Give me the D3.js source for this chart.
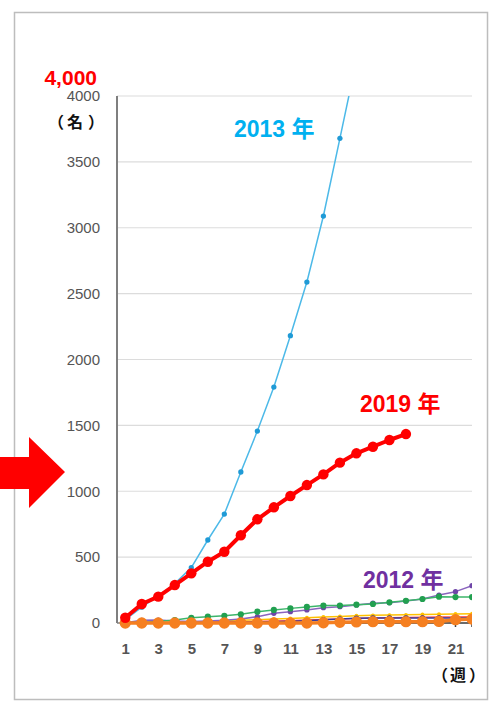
<!DOCTYPE html>
<html>
<head>
<meta charset="utf-8">
<script src="https://cdn.jsdelivr.net/npm/d3@7"></script>
<style>
  body{margin:0;background:#fff;}
  text{font-family:"Liberation Sans","Noto Sans CJK JP",Arial,sans-serif;}
  text.cjk{font-family:"Noto Sans CJK JP",sans-serif;}
</style>
</head>
<body>
<div id="chart"></div>
<script>
// categories (週) and tick labels
const weeks = [1,2,3,4,5,6,7,8,9,10,11,12,13,14,15,16,17,18,19,20,21,22];
const xTicks = [1,3,5,7,9,11,13,15,17,19,21];
const yTicks = [0,500,1000,1500,2000,2500,3000,3500,4000];

// series values (名), index 0 = week 1
const y2013 = [25,120,205,300,420,630,827,1146,1457,1791,2181,2588,3089,3679,4270];
const y2019 = [40,144,200,288,377,465,541,666,787,878,964,1047,1128,1217,1288,1338,1389,1434];
const y2012 = [2,20,22,15,12,15,20,30,48,74,86,99,116,124,137,150,154,167,182,212,238,283];
const yGreen = [0,5,12,23,40,48,55,66,86,99,111,122,132,133,139,144,157,169,182,200,197,197];
const yOrange = [0,0,0,0,0,0,0,0,0,0,0,0,2,5,8,10,10,10,10,12,25,30];
const yNavy = [0,0,0,0,0,2,4,6,8,10,14,18,24,30,36,38,38,38,38,38,38,40];
const yYellow = [0,0,2,5,8,12,16,20,25,30,35,40,45,50,55,58,60,62,64,66,68,70];
const yPink = [0,0,0,2,4,6,8,10,12,15,18,22,26,30,34,38,40,42,44,45,46,48];
const yGray = [0,0,0,0,0,0,0,0,0,0,0,0,0,0,0,0,0,0,0,0,0,0];

class Chart{
  constructor(opts){
    this.element = opts.element;
    this.series = opts.series;

    this.draw();
  }

  draw(){
    this.width = 491;
    this.height = 705;
    this.margin = {
      top : 96,
      bottom : 82,
      left : 117,
      right : 19
    };
    this.innerW = this.width - this.margin.left - this.margin.right;
    this.innerH = this.height - this.margin.top - this.margin.bottom;

    this.element.innerHTML = '';
    const svg = d3.select(this.element).append('svg')
                  .attr('width', this.width)
                  .attr('height', this.height);
    this.svg = svg;

    // screenshot frame
    svg.append('rect')
       .attr('x', 14.5).attr('y', 12.5)
       .attr('width', 473).attr('height', 687)
       .attr('fill', '#fff')
       .attr('stroke', '#bdbdbd')
       .attr('stroke-width', 1.5);

    // red arrow on the left
    svg.append('polygon')
       .attr('points', '0,457 29,457 29,437 65,472 29,508 29,489 0,489')
       .attr('fill', '#ff0000');

    this.plot = svg.append('g')
                   .attr('transform', `translate(${this.margin.left},${this.margin.top})`);

    this.createScales();
    this.addAxes();
    this.addLines();
    this.addLabels();
  }

  createScales(){
    this.xScale = d3.scaleLinear()
                    .domain([0.5, 22])
                    .range([0, this.innerW]);

    this.yScale = d3.scaleLinear()
                    .domain([0, 4000])
                    .range([this.innerH, 0]);
  }

  addAxes(){
    // gridlines
    this.plot.append('g')
             .selectAll('line')
             .data(yTicks.filter(d => d > 0))
             .join('line')
             .attr('x1', 0)
             .attr('x2', this.innerW)
             .attr('y1', d => this.yScale(d))
             .attr('y2', d => this.yScale(d))
             .attr('stroke', '#dcdcdc')
             .attr('stroke-width', 1.2);

    const yAxis = d3.axisLeft(this.yScale)
                    .tickValues(yTicks)
                    .tickFormat(d3.format('d'))
                    .tickSize(0)
                    .tickPadding(17);

    const xAxis = d3.axisBottom(this.xScale)
                    .tickValues(xTicks)
                    .tickFormat(d3.format('d'))
                    .tickSize(0)
                    .tickPadding(20);

    const gy = this.plot.append('g').attr('class', 'y axis').call(yAxis);
    const gx = this.plot.append('g').attr('class', 'x axis')
                   .attr('transform', `translate(0,${this.innerH})`)
                   .call(xAxis);

    gy.select('.domain').remove();
    gy.selectAll('text')
      .attr('fill', '#555')
      .style('font-size', '15px')
      .style('font-family', '"Liberation Sans",Arial,sans-serif');

    gx.select('.domain').remove();
    gx.selectAll('text')
      .attr('fill', '#555')
      .style('font-size', '15px')
      .style('font-weight', 'bold')
      .style('font-family', '"Liberation Sans",Arial,sans-serif');

    // axis lines
    this.plot.append('line')
             .attr('x1', 0).attr('x2', 0)
             .attr('y1', 0).attr('y2', this.innerH)
             .attr('stroke', '#7f7f7f').attr('stroke-width', 2);
    this.plot.append('line')
             .attr('x1', 0).attr('x2', this.innerW)
             .attr('y1', this.innerH).attr('y2', this.innerH)
             .attr('stroke', '#7f7f7f').attr('stroke-width', 1.5);
  }

  addLines(){
    this.svg.append('defs').append('clipPath')
            .attr('id', 'clip')
            .append('rect')
            .attr('x', -10).attr('y', 0)
            .attr('width', this.innerW + 10)
            .attr('height', this.innerH + 20);

    const lines = this.plot.append('g').attr('clip-path', 'url(#clip)');

    const line = d3.line()
                   .x((d, i) => this.xScale(weeks[i]))
                   .y(d => this.yScale(d));

    this.series.forEach(s => {
      const g = lines.append('g');
      g.append('path')
       .datum(s.values)
       .attr('d', line)
       .attr('fill', 'none')
       .attr('stroke', s.color)
       .attr('stroke-width', s.width)
       .attr('stroke-linejoin', 'round');

      if (s.marker === 'tick'){
        g.selectAll('line')
         .data(s.values)
         .join('line')
         .attr('x1', (d, i) => this.xScale(weeks[i]))
         .attr('x2', (d, i) => this.xScale(weeks[i]))
         .attr('y1', d => this.yScale(d) - 3)
         .attr('y2', d => this.yScale(d) + 4)
         .attr('stroke', s.dot)
         .attr('stroke-width', 1.5);
      } else {
        const sym = d3.symbol()
                      .type(d3.symbolCircle)
                      .size(s.size);
        g.selectAll('path.dot')
         .data(s.values)
         .join('path')
         .attr('class', 'dot')
         .attr('d', sym)
         .attr('transform', (d, i) => `translate(${this.xScale(weeks[i])},${this.yScale(d)})`)
         .attr('fill', s.dot);
      }
    });
  }

  addLabels(){
    const svg = this.svg;
    const label = (txt, x, y, size, color, anchor, cls) =>
      svg.append('text')
         .attr('class', cls || null)
         .attr('x', x).attr('y', y)
         .attr('text-anchor', anchor || 'start')
         .attr('fill', color)
         .style('font-size', size + 'px')
         .style('font-weight', 'bold')
         .text(txt);

    label('4,000', 97, 85, 21, '#ff0000', 'end');
    label('2013 年', 234, 137, 23, '#00b0f0');
    label('2019 年', 360, 412, 23, '#ff0000');
    label('2012 年', 363, 588, 23, '#7030a0');

    // unit labels, glyph by glyph so the wide brackets keep their spacing
    [['（', 56], ['名', 75], ['）', 96]].forEach(([t, x]) =>
      label(t, x, 128, 16, '#111', 'middle', 'cjk'));
    [['（', 440], ['週', 458], ['）', 477]].forEach(([t, x]) =>
      label(t, x, 681, 16, '#111', 'middle', 'cjk'));
  }
}

const chart = new Chart({
  element : document.getElementById('chart'),
  series : [
    {values: yGray,   color: '#595959', dot: '#404040', width: 1.5, marker: 'tick'},
    {values: yYellow, color: '#ffc000', dot: '#ffc000', width: 1.5, marker: 'circle', size: 12},
    {values: yPink,   color: '#ff5050', dot: '#ff5050', width: 1.5, marker: 'circle', size: 12},
    {values: yNavy,   color: '#3a3a9a', dot: '#3a3a9a', width: 1.5, marker: 'circle', size: 25},
    {values: y2012,   color: '#8a64be', dot: '#6f46a8', width: 1.5, marker: 'circle', size: 22},
    {values: yGreen,  color: '#3cb56a', dot: '#22a050', width: 1.5, marker: 'circle', size: 30},
    {values: yOrange, color: '#f57f20', dot: '#f57f20', width: 3.5, marker: 'circle', size: 100},
    {values: y2013,   color: '#4cb9e8', dot: '#1f9ad6', width: 1.5, marker: 'circle', size: 22},
    {values: y2019,   color: '#ff0000', dot: '#ff0000', width: 4,   marker: 'circle', size: 85}
  ]
});
</script>
</body>
</html>
